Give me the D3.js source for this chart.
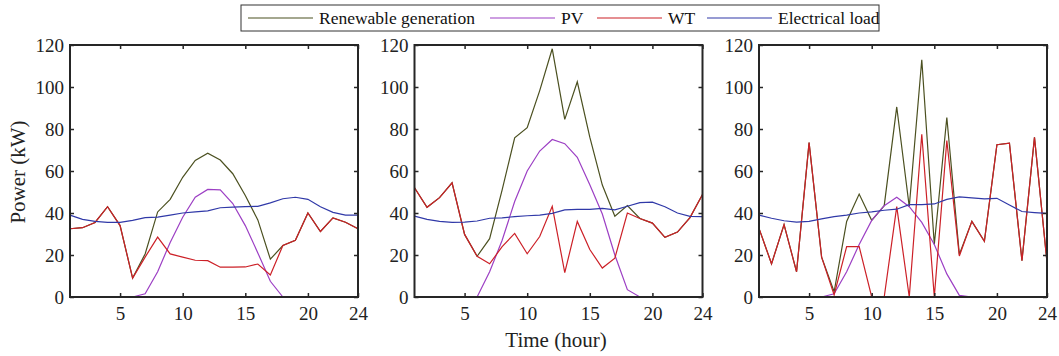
<!DOCTYPE html>
<html>
<head>
<meta charset="utf-8">
<script src="https://cdn.jsdelivr.net/npm/d3@7"></script>
<style>
  body { margin: 0; background: #fff; }
  svg, svg text { font-family: "Liberation Serif", "Times New Roman", serif; }
  svg { display: block; }
</style>
</head>
<body>
<div id="chart"></div>
<script>
const hours = [1,2,3,4,5,6,7,8,9,10,11,12,13,14,15,16,17,18,19,20,21,22,23,24];
const xTicks = [5, 10, 15, 20, 24];
const yTicks = [0, 20, 40, 60, 80, 100, 120];
const seriesNames = ["Renewable generation", "PV", "WT", "Electrical load"];
const seriesColors = ["#4b5020", "#9c3fc4", "#cc2027", "#3039a8"];

// panel 1
const renew1 = [32.5,33,35.5,43,34,9,20.5,40.5,46.5,57,65,68.5,65.2,58.7,48.3,36.7,18,24.5,27,40,31.2,37.7,35.6,32.5];
const pv1 = [0,0,0,0,0,0,1.5,12,26,38,47.5,51.2,51,44.5,34,21,7.5,0,0,0,0,0,0,0];
const wt1 = [32.5,33,35.5,43,34,9,19,28.5,20.5,19,17.5,17.3,14.2,14.2,14.3,15.7,10.5,24.5,27,40,31.2,37.7,35.6,32.5];
const load1 = [39,37,36,35.5,35.5,36.5,37.8,38,39,40,40.5,41,42.5,42.8,43,43.2,44.8,46.8,47.5,46.5,43,40.3,39,39];

// panel 2
const renew2 = [52,42.7,47.3,54.4,29.8,19.4,27.8,51,75.8,80.6,98.3,118.2,84.6,102.5,76.1,53.3,38.5,43.5,37.4,35.2,28.4,30.9,37.8,48.8];
const pv2 = [0,0,0,0,0,0,12,27,45.5,60,69.5,75,73,66.5,53.5,39.5,20,3.5,0,0,0,0,0,0];
const wt2 = [52,42.7,47.3,54.4,29.8,19.4,15.8,24,30.3,20.6,28.8,43.2,11.6,36,22.6,13.8,18.5,40,37.4,35.2,28.4,30.9,37.8,48.8];
const load2 = [38.5,37,36,35.5,35.7,36.2,37.5,37.7,38.3,38.7,39,39.8,41.5,41.7,41.7,42.2,41.5,43.2,44.9,45.2,43,40,38.4,38.3];

// panel 3
const renew3 = [32.7,15.8,34.5,12,73.5,19,2.5,36,49,36.5,43.5,90.5,43,113,25,85.5,20.3,36,26.5,72.5,73.3,17.3,76,16.5];
const pv3 = [0,0,0,0,0,0,1.5,12,25,36.5,43.5,47.5,43,35.5,25,11,0.8,0,0,0,0,0,0,0];
const wt3 = [32.7,15.8,34.5,12,73.5,19,1,24,24,0,0,43,0,77.5,0,74.5,19.5,36,26.5,72.5,73.3,17.3,76,16.5];
const load3 = [39,37.5,36.3,35.7,36,37.2,38.3,39,40,40.5,41.3,41.8,44,44,44.3,46.5,47.7,47.2,46.7,47,43.8,40.7,40.2,39.8];

const panels = [
  [renew1, pv1, wt1, load1],
  [renew2, pv2, wt2, load2],
  [renew3, pv3, wt3, load3]
];

const width = 1059, height = 356;
const panelLeft = [70, 414.5, 759];
const panelW = 288, plotTop = 45, plotBottom = 297;
const frameColor = "#262626";
const serif = "'Liberation Serif', 'Times New Roman', serif";

const svg = d3.select("#chart").append("svg")
    .attr("width", width)
    .attr("height", height);

const y = d3.scaleLinear().domain([0, 120]).range([plotBottom, plotTop]);

panels.forEach((series, i) => {
  const x = d3.scaleLinear().domain([1, 24]).range([panelLeft[i], panelLeft[i] + panelW]);
  const g = svg.append("g");

  const line = d3.line()
      .x((d, j) => x(hours[j]))
      .y(d => y(d));

  series.forEach((vals, k) => {
    g.append("path")
        .datum(vals)
        .attr("d", line)
        .attr("fill", "none")
        .attr("stroke", seriesColors[k])
        .attr("stroke-width", 1.2);
  });

  // inward ticks on all four sides
  const axes = [
    {ax: d3.axisBottom(x).tickValues(xTicks).tickSize(-4).tickPadding(10), tr: `translate(0,${plotBottom})`, labels: true},
    {ax: d3.axisTop(x).tickValues(xTicks).tickSize(-4), tr: `translate(0,${plotTop})`, labels: false},
    {ax: d3.axisLeft(y).tickValues(yTicks).tickSize(-4).tickPadding(6), tr: `translate(${x.range()[0]},0)`, labels: true},
    {ax: d3.axisRight(y).tickValues(yTicks).tickSize(-4), tr: `translate(${x.range()[1]},0)`, labels: false}
  ];
  axes.forEach(a => {
    const ag = g.append("g").attr("transform", a.tr).call(a.ax.tickSizeOuter(0));
    ag.attr("font-family", null).attr("font-size", null);
    ag.select(".domain").remove();
    ag.selectAll("line").attr("stroke", frameColor).attr("stroke-width", 1.5);
    ag.selectAll("text")
        .attr("fill", "#222")
        .style("font-family", serif)
        .style("font-size", "19px")
        .style("display", a.labels ? null : "none");
  });

  g.append("rect")
      .attr("x", x.range()[0])
      .attr("y", plotTop)
      .attr("width", panelW)
      .attr("height", plotBottom - plotTop)
      .attr("fill", "none")
      .attr("stroke", frameColor)
      .attr("stroke-width", 2);
});

// axis titles
svg.append("text")
    .attr("x", 556).attr("y", 347)
    .attr("text-anchor", "middle")
    .attr("fill", "#222")
    .style("font-family", serif)
    .style("font-size", "21px")
    .text("Time (hour)");

svg.append("text")
    .attr("transform", "translate(25,172) rotate(-90)")
    .attr("text-anchor", "middle")
    .attr("fill", "#222")
    .style("font-family", serif)
    .style("font-size", "21px")
    .text("Power (kW)");

// legend
const legend = svg.append("g");
legend.append("rect")
    .attr("x", 241).attr("y", 5)
    .attr("width", 638).attr("height", 26)
    .attr("fill", "#fff")
    .attr("stroke", "#333")
    .attr("stroke-width", 1);

const legendX = [248, 490, 597, 707];
seriesNames.forEach((name, k) => {
  legend.append("line")
      .attr("x1", legendX[k]).attr("x2", legendX[k] + 65)
      .attr("y1", 18).attr("y2", 18)
      .attr("stroke", seriesColors[k])
      .attr("stroke-width", 1.2);
  legend.append("text")
      .attr("x", legendX[k] + 71).attr("y", 24)
      .attr("fill", "#111")
      .style("font-family", serif)
      .style("font-size", "17.5px")
      .text(name);
});
</script>
</body>
</html>
